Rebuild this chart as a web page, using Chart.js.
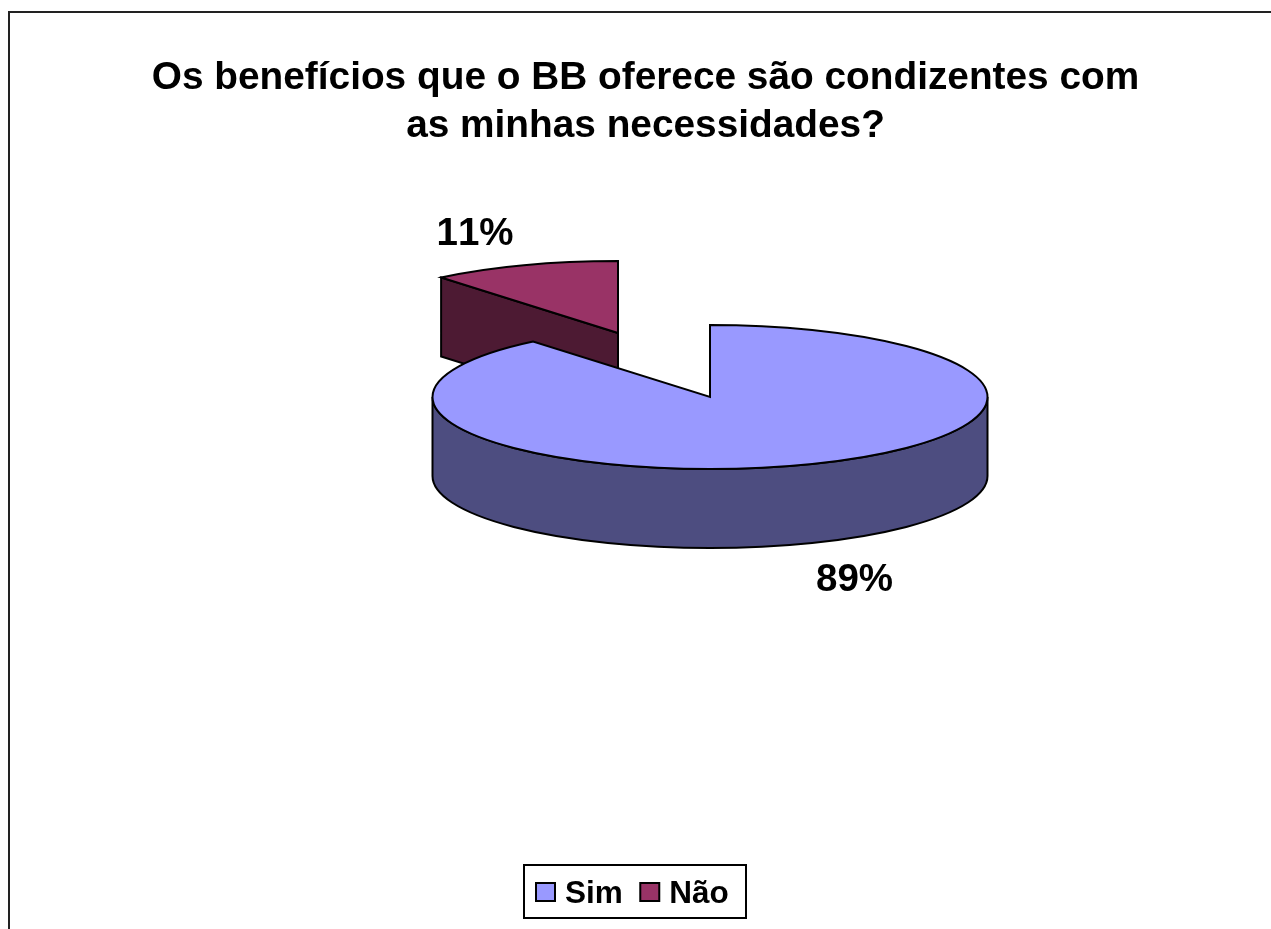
<!DOCTYPE html>
<html>
<head>
<meta charset="utf-8">
<title>Benefícios BB</title>
<script src="https://cdn.jsdelivr.net/npm/chart.js@4"></script>
<style>
    html, body { margin: 0; padding: 0; background: #fff; overflow: hidden; }
    canvas { display: block; }
</style>
</head>
<body>
<canvas id="pieChart" width="1271" height="929"></canvas>
<script>
const titleLines = ['Os benefícios que o BB oferece são condizentes com', 'as minhas necessidades?'];
const categories = ['Sim', 'Não'];
const percentages = [89, 11];
const topColors = ['#9999FF', '#993366'];
const wallColors = ['#4D4D80', '#4D1A33'];

const FONT = '"Liberation Sans", Arial, sans-serif';

// pie geometry: a flat circle squashed into an ellipse, with a wall underneath
const pieX = 710;
const pieY = 397;
const pieRadius = 277.5;
const squash = 72 / 277.5;
const wallDepth = 79;
const sliceShifts = [{ x: 0, y: 0 }, { x: -92, y: -64 }];
const labelSpots = [{ x: 854.5, y: 580.5 }, { x: 475, y: 234 }];
const OUTLINE = 2;

function screenY(el) {
    return pieY + (el.y - pieY) * squash;
}

function drawWall(ctx, el, i) {
    const x = el.x;
    const y = screenY(el);
    const ry = pieRadius * squash;
    const a = el.startAngle;
    const b = el.endAngle;

    ctx.fillStyle = wallColors[i];
    ctx.strokeStyle = '#000';
    ctx.lineWidth = OUTLINE;

    // cut face, only when it looks towards the viewer
    if (Math.sin(a - Math.PI / 2) > 0.001) {
        const px = x + Math.cos(a) * pieRadius;
        const py = y + Math.sin(a) * ry;
        ctx.beginPath();
        ctx.moveTo(px, py);
        ctx.lineTo(x, y);
        ctx.lineTo(x, y + wallDepth);
        ctx.lineTo(px, py + wallDepth);
        ctx.closePath();
        ctx.fill();
        ctx.stroke();
    }

    // outer rim, front half of the ellipse only
    const from = Math.max(a, 0);
    const to = Math.min(b, Math.PI);
    if (to > from) {
        ctx.beginPath();
        ctx.ellipse(x, y, pieRadius, ry, 0, from, to);
        ctx.ellipse(x, y + wallDepth, pieRadius, ry, 0, to, from, true);
        ctx.closePath();
        ctx.fill();
        ctx.stroke();
    }
}

const pie3d = {
    id: 'pie3d',
    afterDatasetsUpdate(chart) {
        chart.getDatasetMeta(0).data.forEach((el, i) => {
            el.x = pieX + sliceShifts[i].x;
            el.y = pieY + sliceShifts[i].y / squash;
        });
    },
    beforeDatasetsDraw(chart) {
        const ctx = chart.ctx;
        const arcs = chart.getDatasetMeta(0).data;

        ctx.save();
        for (let i = arcs.length - 1; i >= 0; i--) {
            drawWall(ctx, arcs[i], i);
        }
        ctx.restore();

        // the library paints the slices through this squashed transform
        ctx.save();
        ctx.translate(0, pieY);
        ctx.scale(1, squash);
        ctx.translate(0, -pieY);
    },
    afterDatasetsDraw(chart) {
        const ctx = chart.ctx;
        ctx.restore();

        ctx.save();
        ctx.strokeStyle = '#000';
        ctx.lineWidth = OUTLINE;
        ctx.lineJoin = 'miter';
        chart.getDatasetMeta(0).data.forEach((el) => {
            const y = screenY(el);
            ctx.beginPath();
            ctx.moveTo(el.x, y);
            ctx.ellipse(el.x, y, pieRadius, pieRadius * squash, 0, el.startAngle, el.endAngle);
            ctx.closePath();
            ctx.stroke();
        });

        // percentage labels
        ctx.fillStyle = '#000';
        ctx.font = 'bold 38.5px ' + FONT;
        ctx.fontKerning = 'none';
        ctx.textAlign = 'center';
        ctx.textBaseline = 'middle';
        percentages.forEach((v, i) => {
            ctx.fillText(v + '%', labelSpots[i].x, labelSpots[i].y);
        });
        ctx.restore();
    }
};

const frameAndLegend = {
    id: 'frameAndLegend',
    beforeDraw(chart) {
        const ctx = chart.ctx;
        ctx.save();
        ctx.strokeStyle = '#222';
        ctx.lineWidth = 2;
        ctx.beginPath();
        ctx.moveTo(9, 929);
        ctx.lineTo(9, 12);
        ctx.lineTo(1271, 12);
        ctx.stroke();
        ctx.restore();
    },
    afterDraw(chart) {
        const ctx = chart.ctx;
        ctx.save();
        ctx.strokeStyle = '#000';
        ctx.lineWidth = 2;
        ctx.strokeRect(524, 865, 222, 53);

        ctx.font = 'bold 31.5px ' + FONT;
        ctx.textAlign = 'left';
        ctx.textBaseline = 'alphabetic';
        let x = 536;
        categories.forEach((name, i) => {
            ctx.fillStyle = topColors[i];
            ctx.fillRect(x, 883, 19, 18);
            ctx.lineWidth = 2;
            ctx.strokeRect(x, 883, 19, 18);
            ctx.fillStyle = '#000';
            ctx.fillText(name, x + 29, 903);
            x += 29 + ctx.measureText(name).width + 17.5;
        });
        ctx.restore();
    }
};

new Chart(document.getElementById('pieChart'), {
    type: 'pie',
    data: {
        labels: categories,
        datasets: [{
            data: percentages,
            backgroundColor: topColors,
            borderWidth: 0,
            clip: false
        }]
    },
    options: {
        responsive: false,
        animation: false,
        events: [],
        radius: pieRadius,
        layout: { padding: { left: 20, top: 44 } },
        plugins: {
            legend: { display: false },
            tooltip: { enabled: false },
            title: {
                display: true,
                text: titleLines,
                color: '#000',
                font: { family: FONT, size: 38.8, weight: 'bold', lineHeight: 1.24 },
                padding: { top: 10, bottom: 10 }
            }
        }
    },
    plugins: [pie3d, frameAndLegend]
});
</script>
</body>
</html>
